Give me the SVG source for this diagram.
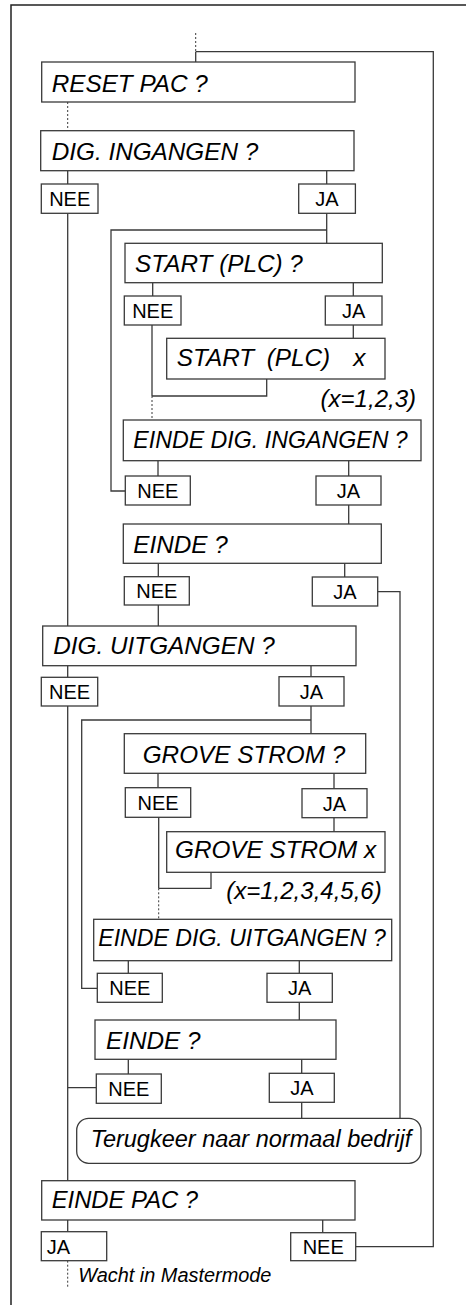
<svg xmlns="http://www.w3.org/2000/svg" width="466" height="1305" viewBox="0 0 466 1305">
<style>
.box{fill:#fff;stroke:#3a3a3a;stroke-width:1.3}
.ln{fill:none;stroke:#3a3a3a;stroke-width:1.3}
.dot{fill:none;stroke:#3a3a3a;stroke-width:1;stroke-dasharray:2,2}
.frame{fill:none;stroke:#222;stroke-width:1.5}
.t{font-family:"Liberation Sans",Arial,sans-serif;font-style:italic;font-size:24.3px;fill:#000}
.l{font-family:"Liberation Sans",Arial,sans-serif;font-size:20px;fill:#000;text-anchor:middle}
.n{font-family:"Liberation Sans",Arial,sans-serif;font-style:italic;font-size:24px;fill:#000;text-anchor:end}
.w{font-family:"Liberation Sans",Arial,sans-serif;font-style:italic;font-size:19.9px;fill:#000}
</style>
<path class="frame" d="M11,1305 V5 H466"/>
<g id="connectors">
<line class="dot" x1="195.7" y1="33" x2="195.7" y2="51.7"/>
<path class="ln" d="M195.7,51.7 V62"/>
<path class="ln" d="M195.7,51.7 H433.3 V1246.7 H355.7"/>
<line class="dot" x1="67.7" y1="102" x2="67.7" y2="130.7"/>
<path class="ln" d="M67.7,170.7 V184 M326.7,170.7 V184"/>
<path class="ln" d="M67.7,213.3 V626"/>
<path class="ln" d="M326.7,213.3 V243.3 M326.7,230 H111 V491 H125.3"/>
<path class="ln" d="M152.7,282.7 V296 M353.3,282.7 V296 M353.3,325 V338.3"/>
<path class="ln" d="M152,325 V396 M266.7,379 V396 H152"/>
<line class="dot" x1="152" y1="396" x2="152" y2="420"/>
<path class="ln" d="M158,460.7 V476 M348.7,460.7 V476 M348.7,505 V524"/>
<path class="ln" d="M158.3,563.3 V576.7 M344.7,563.3 V577"/>
<path class="ln" d="M377.7,591.7 H400 V1118.3"/>
<path class="ln" d="M158.3,605 V626"/>
<path class="ln" d="M67.7,665.7 V677.3 M311,665.7 V676.7"/>
<path class="ln" d="M311,706 V733.7 M311,720 H81.7 V988.3 H97.3"/>
<path class="ln" d="M67.7,706 V1180.7 M67.7,1087.7 H96.3"/>
<path class="ln" d="M158,773.3 V787.7 M334,773.3 V788.7 M334,817.7 V831.7"/>
<path class="ln" d="M158.7,817.3 V888.3 M211,872.3 V888.3 H158.7"/>
<line class="dot" x1="158.7" y1="888.3" x2="158.7" y2="919.3"/>
<path class="ln" d="M128.3,960.7 V973.3 M299.3,960.7 V973.3 M299.3,1002.3 V1020"/>
<path class="ln" d="M128.3,1059.3 V1074 M301.7,1059.3 V1073.3 M301.7,1102.3 V1118.3"/>
<path class="ln" d="M67.7,1220 V1231.7 M322.7,1220 V1232.7"/>
<line class="dot" x1="67.7" y1="1260.7" x2="67.7" y2="1286.7"/>
</g>
<g id="reset-pac"><rect class="box" x="41.7" y="62" width="313.3" height="40"/><text class="t" x="51.7" y="91.5">RESET PAC ?</text></g>
<g id="dig-ingangen"><rect class="box" x="40.7" y="130.7" width="313.3" height="40"/><text class="t" x="51.7" y="160">DIG. INGANGEN ?</text></g>
<g id="dig-ingangen-nee"><rect class="box" x="41.3" y="184" width="56.7" height="29.3"/><text class="l" x="69.7" y="205.8">NEE</text></g>
<g id="dig-ingangen-ja"><rect class="box" x="298.7" y="184" width="56.7" height="29.3"/><text class="l" x="327" y="205.8">JA</text></g>
<g id="start-plc"><rect class="box" x="125" y="243.3" width="257.3" height="39.4"/><text class="t" x="135" y="271.5">START (PLC) ?</text></g>
<g id="start-plc-nee"><rect class="box" x="124.3" y="296" width="56.7" height="29"/><text class="l" x="152.7" y="317.8">NEE</text></g>
<g id="start-plc-ja"><rect class="box" x="325.3" y="296" width="56.7" height="29"/><text class="l" x="353.7" y="317.8">JA</text></g>
<g id="start-plc-x"><rect class="box" x="166.7" y="338.3" width="218.3" height="40.7"/><text class="t" x="176.7" y="365.5">START<tspan x="266.7">(PLC)</tspan><tspan x="353.3">x</tspan></text></g>
<g id="note-x3"><text class="n" x="416" y="407">(x=1,2,3)</text></g>
<g id="einde-dig-ingangen"><rect class="box" x="123.3" y="420" width="297.7" height="40.7"/><text class="t" x="133.3" y="447.5" style="font-size:23.2px">EINDE DIG. INGANGEN ?</text></g>
<g id="einde-dig-ingangen-nee"><rect class="box" x="125.3" y="476" width="65" height="29"/><text class="l" x="157.8" y="497.8">NEE</text></g>
<g id="einde-dig-ingangen-ja"><rect class="box" x="316" y="476" width="65" height="29"/><text class="l" x="348.5" y="497.8">JA</text></g>
<g id="einde-1"><rect class="box" x="123.3" y="524" width="258" height="39.3"/><text class="t" x="133.3" y="552.5">EINDE ?</text></g>
<g id="einde-1-nee"><rect class="box" x="124.3" y="576.7" width="65" height="28.3"/><text class="l" x="156.8" y="598.3">NEE</text></g>
<g id="einde-1-ja"><rect class="box" x="312.3" y="577" width="65.4" height="29"/><text class="l" x="345" y="598.8">JA</text></g>
<g id="dig-uitgangen"><rect class="box" x="42.7" y="626" width="313.3" height="39.7"/><text class="t" x="53.3" y="654">DIG. UITGANGEN ?</text></g>
<g id="dig-uitgangen-nee"><rect class="box" x="41.3" y="677.3" width="56.4" height="28.7"/><text class="l" x="69.5" y="699">NEE</text></g>
<g id="dig-uitgangen-ja"><rect class="box" x="279" y="676.7" width="65" height="29.3"/><text class="l" x="311.5" y="698.5">JA</text></g>
<g id="grove-strom"><rect class="box" x="124.3" y="733.7" width="241.4" height="39.6"/><text class="t" x="142.7" y="762.5">GROVE STROM ?</text></g>
<g id="grove-strom-nee"><rect class="box" x="125.3" y="787.7" width="65.4" height="29.6"/><text class="l" x="158" y="809.5">NEE</text></g>
<g id="grove-strom-ja"><rect class="box" x="302" y="788.7" width="65" height="29"/><text class="l" x="334.5" y="810.5">JA</text></g>
<g id="grove-strom-x"><rect class="box" x="166.7" y="831.7" width="218.3" height="40.6"/><text class="t" x="175" y="858">GROVE STROM x</text></g>
<g id="note-x6"><text class="n" x="381.7" y="898.5">(x=1,2,3,4,5,6)</text></g>
<g id="einde-dig-uitgangen"><rect class="box" x="93.7" y="919.3" width="298" height="41.4"/><text class="t" x="98.3" y="946" style="font-size:23.1px">EINDE DIG. UITGANGEN ?</text></g>
<g id="einde-dig-uitgangen-nee"><rect class="box" x="97.3" y="973.3" width="65" height="29"/><text class="l" x="129.8" y="995.1">NEE</text></g>
<g id="einde-dig-uitgangen-ja"><rect class="box" x="267" y="973.3" width="65.3" height="29"/><text class="l" x="299.7" y="995.1">JA</text></g>
<g id="einde-2"><rect class="box" x="95" y="1020" width="241" height="39.3"/><text class="t" x="106" y="1049">EINDE ?</text></g>
<g id="einde-2-nee"><rect class="box" x="96.3" y="1074" width="65" height="29.3"/><text class="l" x="128.8" y="1095.8">NEE</text></g>
<g id="einde-2-ja"><rect class="box" x="269.3" y="1073.3" width="65" height="29"/><text class="l" x="301.8" y="1095.1">JA</text></g>
<g id="terugkeer"><rect class="box" x="76.7" y="1118.3" width="344.3" height="45" rx="12" ry="12"/><text class="t" x="90.7" y="1146.7" style="font-size:23.5px">Terugkeer naar normaal bedrijf</text></g>
<g id="einde-pac"><rect class="box" x="41.7" y="1180.7" width="313.3" height="39.3"/><text class="t" x="51.7" y="1207.5" style="font-size:23.8px">EINDE PAC ?</text></g>
<g id="einde-pac-ja"><rect class="box" x="41.3" y="1231.7" width="65.4" height="29"/><text class="l" x="46.7" y="1253.5" style="text-anchor:start">JA</text></g>
<g id="einde-pac-nee"><rect class="box" x="290.7" y="1232.7" width="65" height="28"/><text class="l" x="323.2" y="1254">NEE</text></g>
<g id="wacht"><text class="w" x="78.3" y="1282.3">Wacht in Mastermode</text></g>
</svg>
